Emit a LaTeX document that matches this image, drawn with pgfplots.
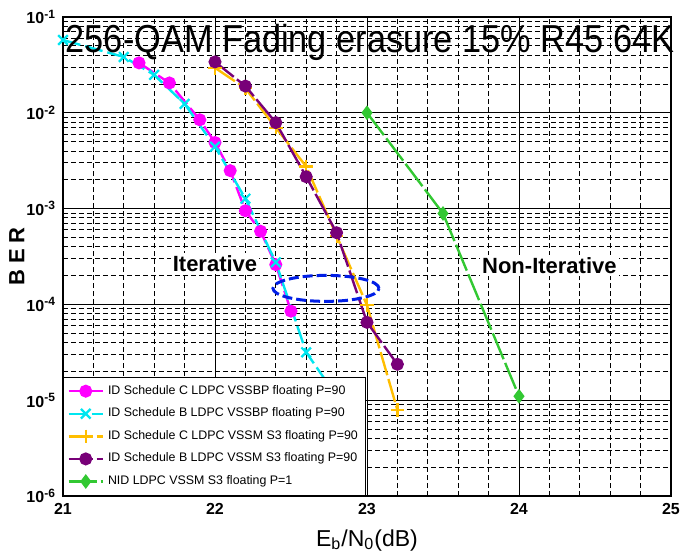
\documentclass[border=0pt]{standalone}
\usepackage{pgfplots}
\pgfplotsset{compat=1.18}
\usepackage{fontspec}
\setmainfont{Liberation Sans}

\definecolor{cmag}{RGB}{255,0,255}
\definecolor{ccyan}{RGB}{0,230,240}
\definecolor{corange}{RGB}{255,190,0}
\definecolor{cpurple}{RGB}{120,0,120}
\definecolor{cgreen}{RGB}{50,200,50}
\definecolor{cblue}{RGB}{0,30,230}

\begin{document}
\begin{tikzpicture}
\useasboundingbox (-31.5pt,-30pt) rectangle (308.5pt,248pt);
\begin{axis}[
    scale only axis,
    width=304pt, height=239.5pt,
    clip=false,
    xmin=21, xmax=25,
    ymode=log, ymin=1e-6, ymax=1e-1,
    xtick={21,22,23,24,25},
    minor x tick num=4,
    ytick={1e-6,1e-5,1e-4,1e-3,1e-2,1e-1},
    yticklabels={10\textsuperscript{-6},10\textsuperscript{-5},10\textsuperscript{-4},10\textsuperscript{-3},10\textsuperscript{-2},10\textsuperscript{-1}},
    xticklabels={21,22,23,24,25},
    grid=both,
    major grid style={black, line width=0.5pt},
    minor grid style={black, line width=0.4pt, dash pattern=on 2.5pt off 1.5pt},
    axis line style={black, line width=0.7pt},
    major tick length=0pt, minor tick length=0pt,
    tick label style={font=\bfseries\fontsize{8}{9}\selectfont},
    xlabel={E\textsubscript{b}/N\textsubscript{0}(dB)},
    ylabel={\textbf{B E R}},
    xlabel style={at={(axis description cs:0.5,-0.092)}, anchor=center, font=\fontsize{11.5}{12}\selectfont},
    ylabel style={at={(axis description cs:-0.076,0.5)}, anchor=center, font=\fontsize{11}{12}\selectfont},
    legend style={at={(0,0)}, anchor=south west, draw=black, fill=white,
        font=\fontsize{6.2}{7}\selectfont, cells={anchor=west},
        row sep=1.3pt, inner sep=2pt, line width=0.5pt},
    every axis plot/.append style={line width=1.2pt, mark options={solid, line width=1.1pt}},
]
\addplot[cmag, dash pattern=on 9pt off 2.5pt, mark=*, mark size=2.7pt] coordinates {
(21.5,0.0332) (21.7,0.0205) (21.9,0.00845) (22.0,0.0049) (22.1,0.00249)
(22.2,0.00095) (22.3,0.00058) (22.4,0.00026) (22.5,0.000085)
};
\addlegendentry{ID Schedule C LDPC VSSBP floating P=90}
\addplot[ccyan, dash pattern=on 9pt off 2.5pt, mark=x, mark size=3.4pt] coordinates {
(21.0,0.0575) (21.4,0.0383) (21.6,0.0249) (21.8,0.0124) (22.0,0.00443)
(22.2,0.00127) (22.4,0.000275) (22.6,0.0000316) (22.8,0.000011)
};
\addlegendentry{ID Schedule B LDPC VSSBP floating P=90}
\addplot[corange, dash pattern=on 12pt off 2pt, mark=+, mark size=3.4pt] coordinates {
(22.0,0.0295) (22.2,0.018) (22.4,0.007) (22.6,0.00275) (22.8,0.00052)
(23.0,0.000098) (23.2,0.0000079)
};
\addlegendentry{ID Schedule C LDPC VSSM S3 floating P=90}
\addplot[cpurple, dash pattern=on 12pt off 2pt, mark=*, mark size=2.7pt] coordinates {
(22.0,0.034) (22.2,0.019) (22.4,0.0079) (22.6,0.00215) (22.8,0.00056)
(23.0,0.000065) (23.2,0.0000237)
};
\addlegendentry{ID Schedule B LDPC VSSM S3 floating P=90}
\addplot[cgreen, dash pattern=on 14pt off 2pt, mark=diamond*, mark size=2.8pt] coordinates {
(23.0,0.01) (23.5,0.00089) (24.0,0.000011)
};
\addlegendentry{NID LDPC VSSM S3 floating P=1}

\draw[cblue, line width=1.5pt, dash pattern=on 5pt off 2pt]
    (axis cs:22.73,1.47e-4) ellipse [x radius=26.5pt, y radius=6.5pt];
\node[fill=white, inner sep=1pt, font=\bfseries\fontsize{11}{12}\selectfont]
    at (axis cs:22.0,2.67e-4) {Iterative};
\node[fill=white, inner sep=1pt, font=\bfseries\fontsize{11}{12}\selectfont]
    at (axis cs:24.2,2.55e-4) {Non-Iterative};
\node[inner sep=0pt, anchor=base, font=\fontsize{19.5}{20}\selectfont]
    at (rel axis cs:0.505,0.925) {\scalebox{0.88}[1]{256-QAM Fading erasure 15\% R45 64K}};
\end{axis}
\end{tikzpicture}
\end{document}
